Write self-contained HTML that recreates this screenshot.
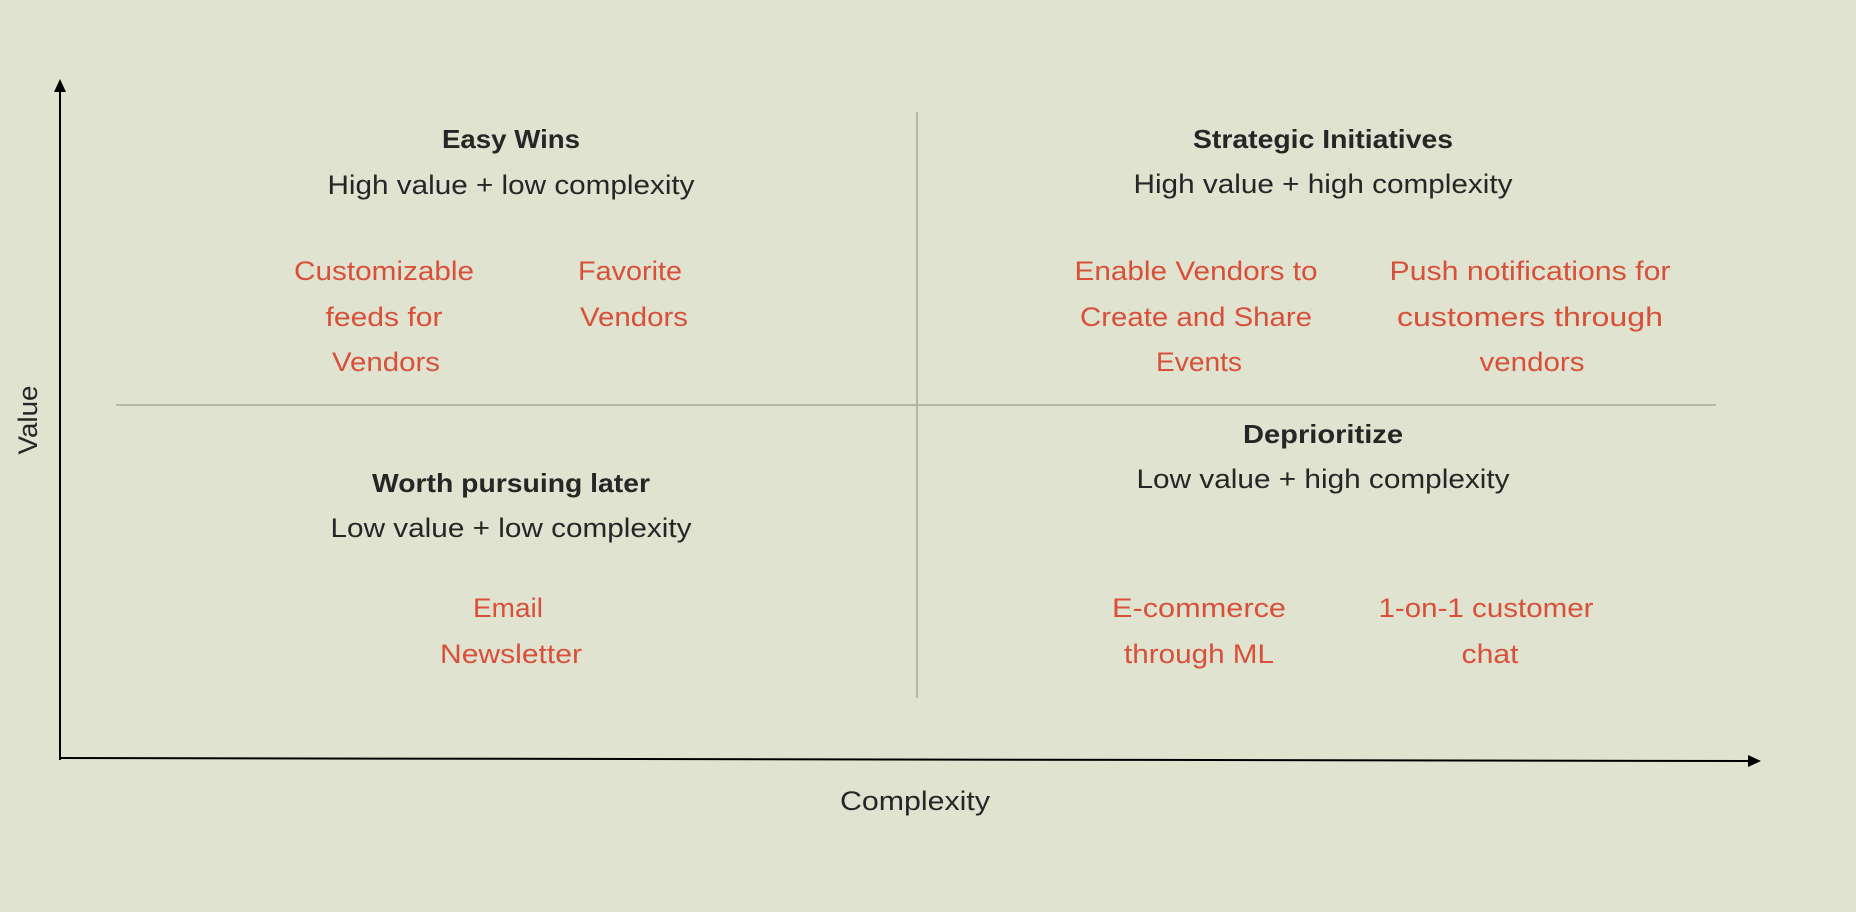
<!DOCTYPE html>
<html><head><meta charset="utf-8"><style>
html,body{margin:0;padding:0;background:#dfe3cf;}
svg{display:block}
text{font-family:"Liberation Sans",sans-serif;font-size:27px;dominant-baseline:central;text-anchor:middle;fill:#262626}
.t{font-weight:bold;font-size:26px}
.r{fill:#d9503a}
</style></head><body>
<svg width="1856" height="912" viewBox="0 0 1856 912" xmlns="http://www.w3.org/2000/svg">
<defs>
<pattern id="dots" width="20" height="20" patternUnits="userSpaceOnUse"><circle cx="10" cy="10" r="1" fill="#d6dbc6"/></pattern>
</defs>
<rect width="1856" height="912" fill="#dfe3cf"/>
<rect width="1856" height="912" fill="url(#dots)"/>
<line x1="116" y1="405" x2="1716" y2="405" stroke="#b3b8a6" stroke-width="2"/>
<line x1="917" y1="112" x2="917" y2="698" stroke="#b3b8a6" stroke-width="2"/>
<line x1="60" y1="90" x2="60" y2="760" stroke="#000" stroke-width="2"/>
<polygon points="60,79 54,92 66,92" fill="#000"/>
<line x1="60" y1="758" x2="1750" y2="761" stroke="#000" stroke-width="2"/>
<polygon points="1761,761 1748,755 1748,767" fill="#000"/>
<text x="28" y="420" transform="rotate(-90 28 420)" textLength="69" lengthAdjust="spacingAndGlyphs">Value</text>
<text x="915" y="801" textLength="150" lengthAdjust="spacingAndGlyphs">Complexity</text>
<text class="t" x="511" y="139" textLength="138" lengthAdjust="spacingAndGlyphs">Easy Wins</text>
<text x="511" y="185" textLength="367" lengthAdjust="spacingAndGlyphs">High value + low complexity</text>
<text class="t" x="1323" y="139" textLength="260" lengthAdjust="spacingAndGlyphs">Strategic Initiatives</text>
<text x="1323" y="184" textLength="379" lengthAdjust="spacingAndGlyphs">High value + high complexity</text>
<text class="t" x="511" y="483" textLength="278" lengthAdjust="spacingAndGlyphs">Worth pursuing later</text>
<text x="511" y="528" textLength="361" lengthAdjust="spacingAndGlyphs">Low value + low complexity</text>
<text class="t" x="1323" y="434" textLength="160" lengthAdjust="spacingAndGlyphs">Deprioritize</text>
<text x="1323" y="479" textLength="373" lengthAdjust="spacingAndGlyphs">Low value + high complexity</text>
<text class="r" x="384" y="271" textLength="180" lengthAdjust="spacingAndGlyphs">Customizable</text>
<text class="r" x="384" y="317" textLength="117" lengthAdjust="spacingAndGlyphs">feeds for</text>
<text class="r" x="386" y="362" textLength="108" lengthAdjust="spacingAndGlyphs">Vendors</text>
<text class="r" x="630" y="271" textLength="104" lengthAdjust="spacingAndGlyphs">Favorite</text>
<text class="r" x="634" y="317" textLength="108" lengthAdjust="spacingAndGlyphs">Vendors</text>
<text class="r" x="1196" y="271" textLength="243" lengthAdjust="spacingAndGlyphs">Enable Vendors to</text>
<text class="r" x="1196" y="317" textLength="232" lengthAdjust="spacingAndGlyphs">Create and Share</text>
<text class="r" x="1199" y="362" textLength="86" lengthAdjust="spacingAndGlyphs">Events</text>
<text class="r" x="1530" y="271" textLength="281" lengthAdjust="spacingAndGlyphs">Push notifications for</text>
<text class="r" x="1530" y="317" textLength="266" lengthAdjust="spacingAndGlyphs">customers through</text>
<text class="r" x="1532" y="362" textLength="105" lengthAdjust="spacingAndGlyphs">vendors</text>
<text class="r" x="508" y="608" textLength="70" lengthAdjust="spacingAndGlyphs">Email</text>
<text class="r" x="511" y="654" textLength="142" lengthAdjust="spacingAndGlyphs">Newsletter</text>
<text class="r" x="1199" y="608" textLength="174" lengthAdjust="spacingAndGlyphs">E-commerce</text>
<text class="r" x="1199" y="654" textLength="150" lengthAdjust="spacingAndGlyphs">through ML</text>
<text class="r" x="1486" y="608" textLength="215" lengthAdjust="spacingAndGlyphs">1-on-1 customer</text>
<text class="r" x="1490" y="654" textLength="57" lengthAdjust="spacingAndGlyphs">chat</text>
</svg>
</body></html>
